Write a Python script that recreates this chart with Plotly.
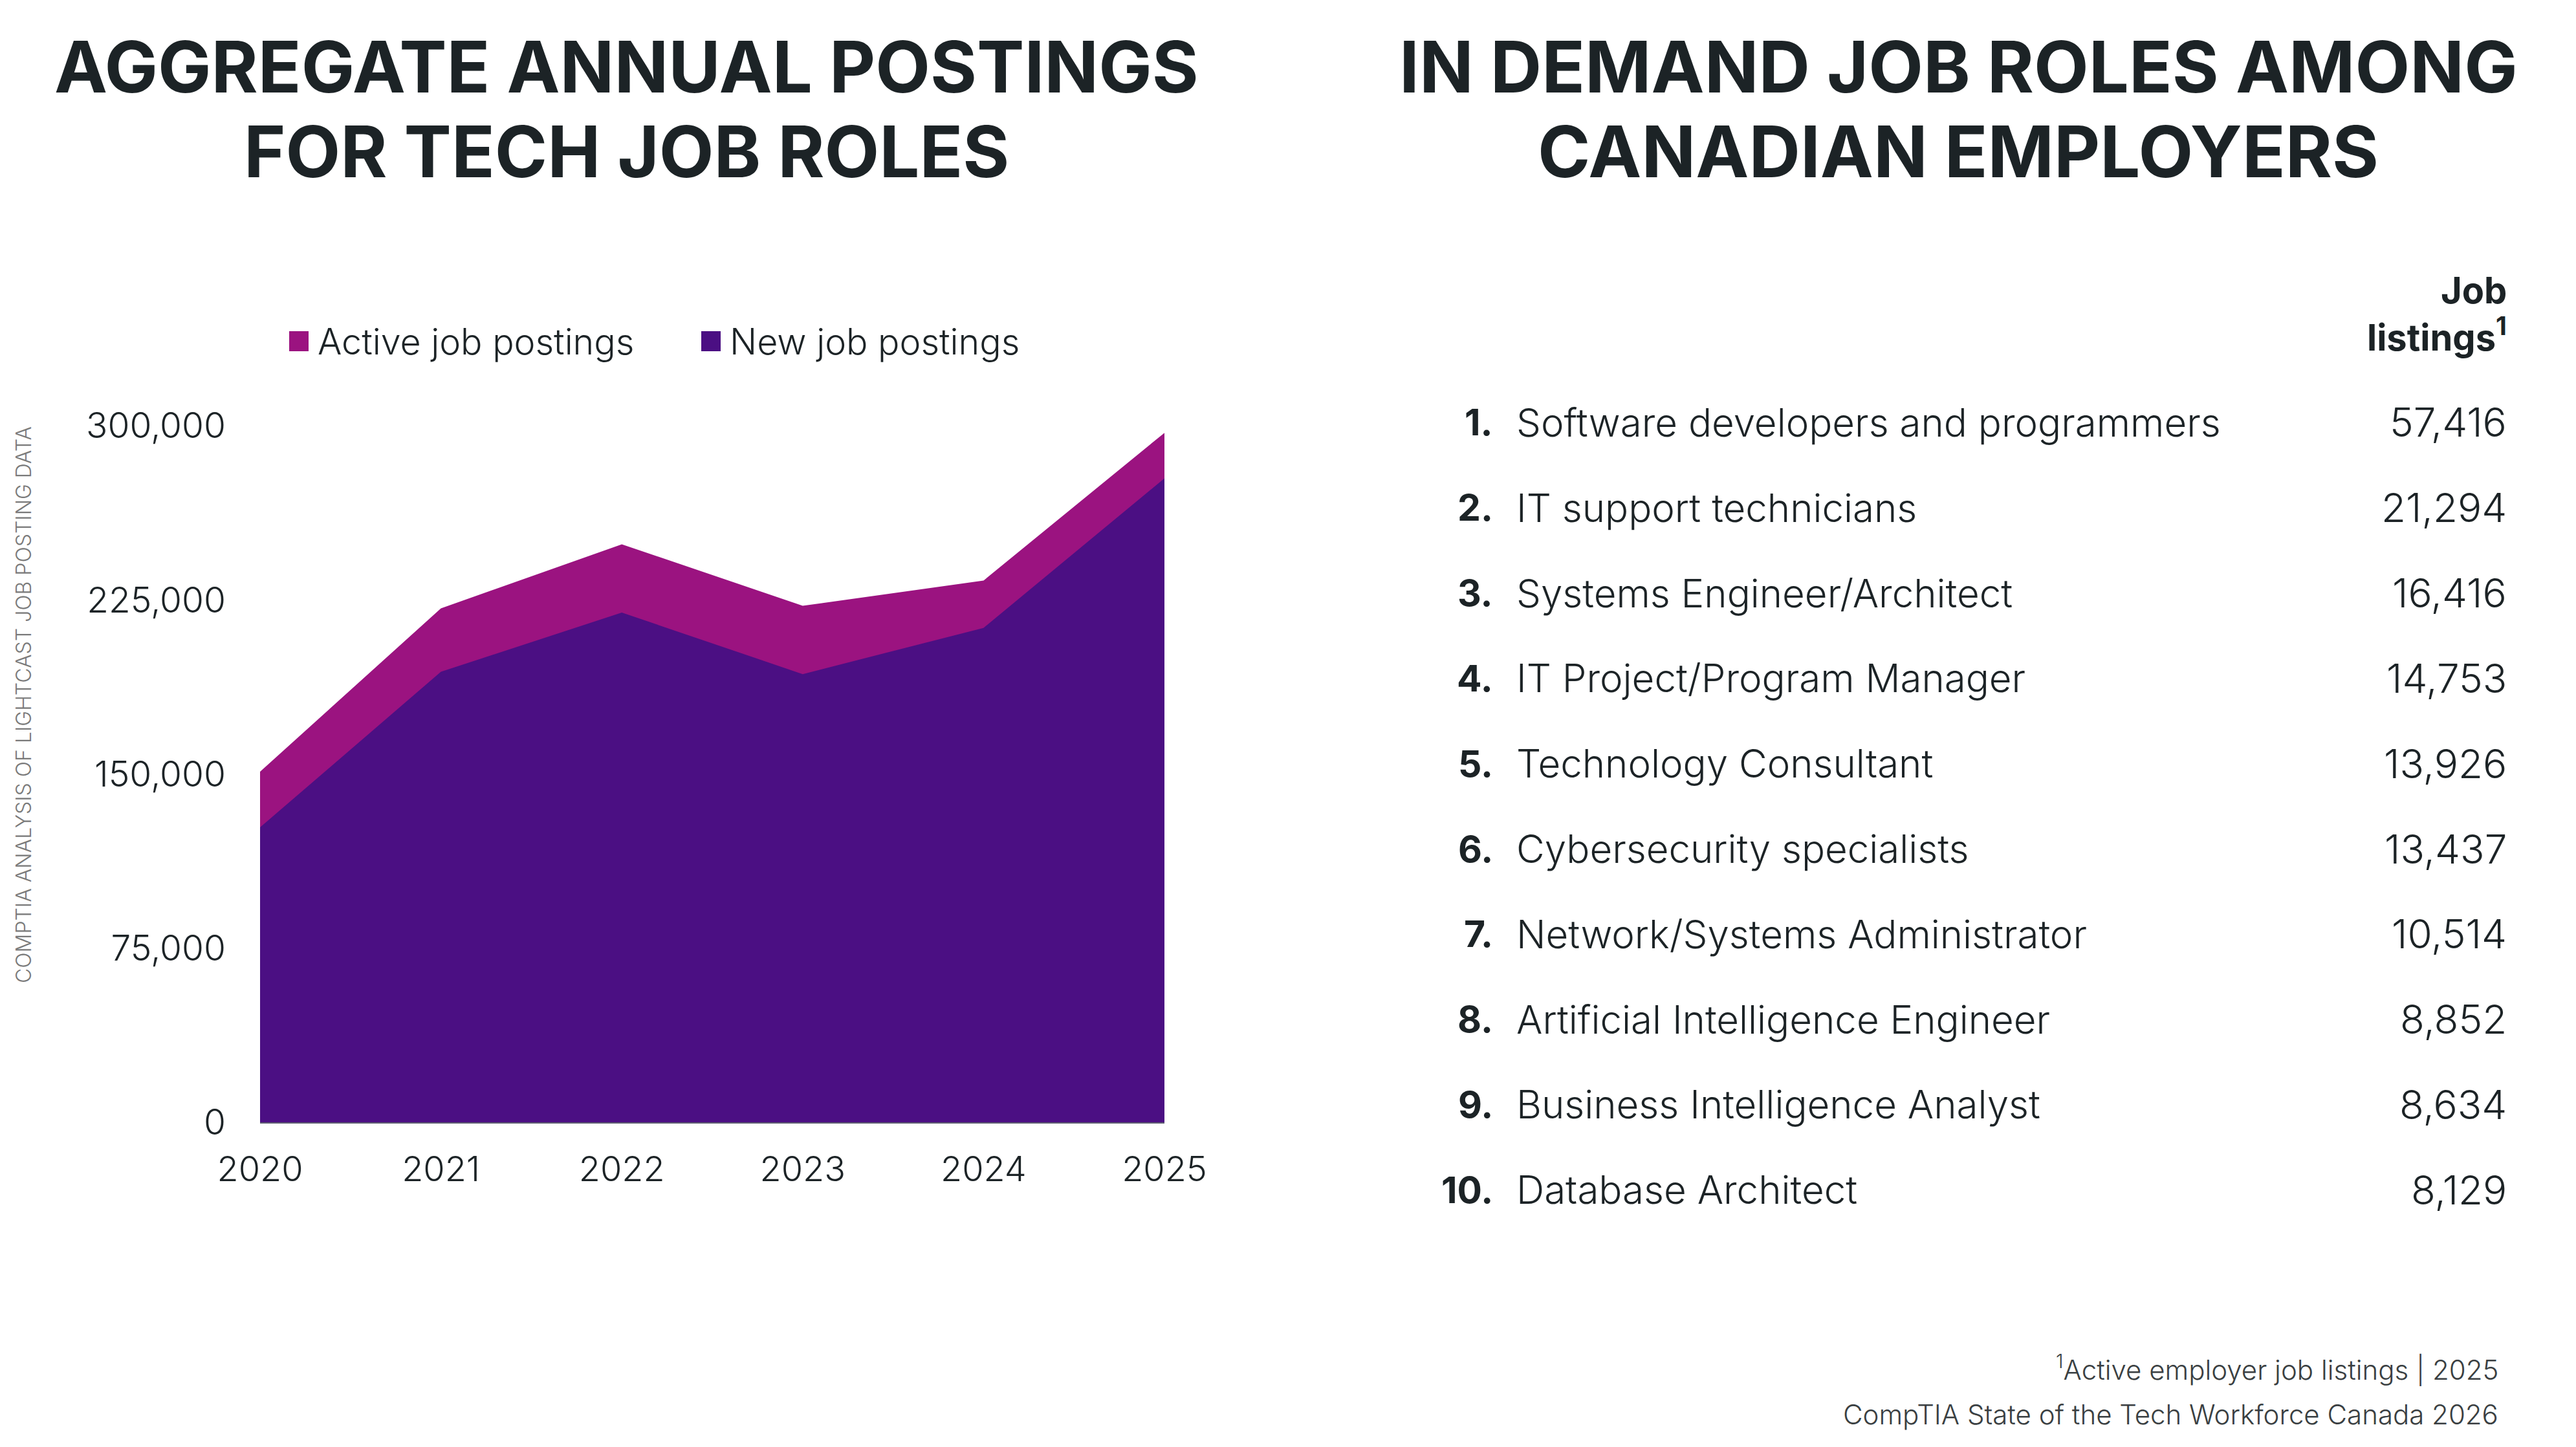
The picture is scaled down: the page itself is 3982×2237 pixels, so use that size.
import plotly.graph_objects as go

W, H = 3982, 2237

# ---------------- data ----------------
years = [2020, 2021, 2022, 2023, 2024, 2025]
active_postings = [151000, 221300, 248900, 222400, 233300, 296900]
new_postings = [127000, 194000, 219500, 193000, 212900, 277300]
y_ticks = [0, 75000, 150000, 225000, 300000]

roles = [
    "Software developers and programmers",
    "IT support technicians",
    "Systems Engineer/Architect",
    "IT Project/Program Manager",
    "Technology Consultant",
    "Cybersecurity specialists",
    "Network/Systems Administrator",
    "Artificial Intelligence Engineer",
    "Business Intelligence Analyst",
    "Database Architect",
]
job_listings = [57416, 21294, 16416, 14753, 13926, 13437, 10514, 8852, 8634, 8129]

# ---------------- style ----------------
C_ACTIVE = "#9B1380"
C_NEW = "#4B0F83"
TXT = "#1C2326"
FONT = "Inter"


def px(x):
    return x / W


def py(y):
    return 1 - y / H


fig = go.Figure()
fig.add_trace(go.Scatter(
    x=years, y=active_postings, name="Active job postings", mode="lines",
    line=dict(width=0, color=C_ACTIVE), fill="tozeroy", fillcolor=C_ACTIVE,
    showlegend=False, hoverinfo="x+y"))
fig.add_trace(go.Scatter(
    x=years, y=new_postings, name="New job postings", mode="lines",
    line=dict(width=0, color=C_NEW), fill="tozeroy", fillcolor=C_NEW,
    showlegend=False, hoverinfo="x+y"))

fig.update_layout(
    width=W, height=H,
    margin=dict(l=0, r=0, t=0, b=0, pad=0, autoexpand=False),
    paper_bgcolor="white", plot_bgcolor="white",
    font=dict(family=FONT, color=TXT, size=54, weight=300),
    showlegend=False,
    xaxis=dict(
        domain=[px(402), px(1800)], range=[2020, 2025],
        tickvals=years, ticktext=[str(y) for y in years],
        showgrid=False, zeroline=False, automargin=False,
        showline=True, linecolor="#5E5E72", linewidth=2,
        ticks="outside", ticklen=24, tickcolor="rgba(0,0,0,0)",
        tickfont=dict(size=54, family=FONT, color=TXT, weight=300),
        fixedrange=True,
    ),
    yaxis=dict(
        domain=[py(1735), py(658)], range=[0, 300000],
        tickvals=y_ticks, ticktext=[f"{v:,}" for v in y_ticks],
        showgrid=False, zeroline=False, showline=False, automargin=False,
        ticks="outside", ticklen=41, tickcolor="rgba(0,0,0,0)",
        tickfont=dict(size=55, family=FONT, color=TXT, weight=300),
        fixedrange=True,
    ),
)

ann = []
shapes = []

# titles
for txt, x, y in [
    ("AGGREGATE ANNUAL POSTINGS", 968, 103),
    ("FOR TECH JOB ROLES", 968, 234),
    ("IN DEMAND JOB ROLES AMONG", 3027, 103),
    ("CANADIAN EMPLOYERS", 3027, 234),
]:
    ann.append(dict(text=txt, x=px(x), y=py(y), xref="paper", yref="paper",
                    xanchor="center", yanchor="middle", showarrow=False,
                    font=dict(size=110, family=FONT, color=TXT, weight=700)))

# legend (swatches + labels)
for label, color, sx in [("Active job postings", C_ACTIVE, 447),
                         ("New job postings", C_NEW, 1084)]:
    shapes.append(dict(type="rect", xref="paper", yref="paper",
                       x0=px(sx), x1=px(sx + 30), y0=py(543), y1=py(512),
                       fillcolor=color, line=dict(width=0)))
    ann.append(dict(text=label, x=px(sx + 42), y=py(528), xref="paper", yref="paper",
                    xanchor="left", yanchor="middle", showarrow=False,
                    font=dict(size=55.5, family=FONT, color=TXT, weight=300)))

# vertical source text
ann.append(dict(text="COMPTIA ANALYSIS OF LIGHTCAST JOB POSTING DATA",
                x=px(36), y=py(1090), xref="paper", yref="paper",
                xanchor="center", yanchor="middle", textangle=-90, showarrow=False,
                font=dict(size=32, family=FONT, color="#7A7A7A", weight=300)))

# table header
ann.append(dict(text="Job", x=px(3877), y=py(449), xref="paper", yref="paper",
                xanchor="right", yanchor="middle", showarrow=False,
                font=dict(size=56, family=FONT, color=TXT, weight=700)))
ann.append(dict(text="listings<sup>1</sup>", x=px(3877), y=py(518), xref="paper", yref="paper",
                xanchor="right", yanchor="middle", showarrow=False,
                font=dict(size=56, family=FONT, color=TXT, weight=700)))

# table rows
row0, dy = 653, 131.8
for i, (role, val) in enumerate(zip(roles, job_listings)):
    y = py(row0 + i * dy)
    ann.append(dict(text=f"{i + 1}.", x=px(2310), y=y, xref="paper", yref="paper",
                    xanchor="right", yanchor="middle", showarrow=False,
                    font=dict(size=57, family=FONT, color=TXT, weight=700)))
    ann.append(dict(text=role, x=px(2342), y=y, xref="paper", yref="paper",
                    xanchor="left", yanchor="middle", showarrow=False,
                    font=dict(size=60, family=FONT, color=TXT, weight=300)))
    ann.append(dict(text=f"{val:,}", x=px(3877), y=y, xref="paper", yref="paper",
                    xanchor="right", yanchor="middle", showarrow=False,
                    font=dict(size=62, family=FONT, color=TXT, weight=300)))

# footnotes
ann.append(dict(text="<sup>1</sup>Active employer job listings | 2025",
                x=px(3864), y=py(2115), xref="paper", yref="paper",
                xanchor="right", yanchor="middle", showarrow=False,
                font=dict(size=42, family=FONT, color="#3A3F42", weight=300)))
ann.append(dict(text="CompTIA State of the Tech Workforce Canada 2026",
                x=px(3864), y=py(2186), xref="paper", yref="paper",
                xanchor="right", yanchor="middle", showarrow=False,
                font=dict(size=42, family=FONT, color="#3A3F42", weight=300)))

fig.update_layout(annotations=ann, shapes=shapes)
fig.write_html("out.html")
